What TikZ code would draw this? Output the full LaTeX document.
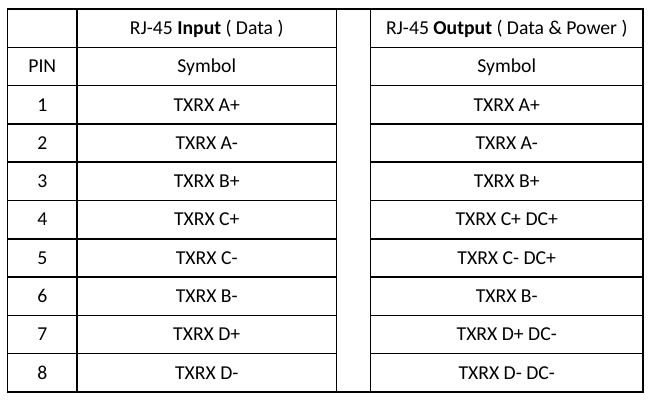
\documentclass[tikz,border=0pt]{standalone}
\usepackage{fontspec}
\setmainfont{Carlito}
\usetikzlibrary{positioning}

\begin{document}
\begin{tikzpicture}[x=0.025cm, y=-0.025cm, line width=1.1pt,
    cell/.style={inner sep=0pt, anchor=base, font=\fontsize{14}{17}\selectfont}]
    \useasboundingbox (0, 0) rectangle (648, 401);

    \draw (7.5, 9) rectangle (643, 392);
    \foreach \i in {1, ..., 9} {
        \draw (7.5, 9+38.3*\i) -- (336.5, 9+38.3*\i);
        \draw (370.5, 9+38.3*\i) -- (643, 9+38.3*\i);
    }
    \foreach \x in {77, 336.5, 370.5} {
        \draw (\x, 9) -- (\x, 392);
    }

    \node [cell] (inhead) at (206.75, 34.45) {RJ-45 \textbf{Input} ( Data )};
    \node [cell] (outhead) at (506.75, 34.45) {RJ-45 \textbf{Output} ( Data \& Power )};
    \node [cell] (pinhead) at (42.25, 72.75) {PIN};
    \node [cell] (insym) at (206.75, 72.75) {Symbol};
    \node [cell] (outsym) at (506.75, 72.75) {Symbol};

    \foreach \p/\a/\b in {
        1/TXRX A+/TXRX A+, 2/TXRX A-/TXRX A-, 3/TXRX B+/TXRX B+,
        4/TXRX C+/TXRX C+ DC+, 5/TXRX C-/TXRX C- DC+, 6/TXRX B-/TXRX B-,
        7/TXRX D+/TXRX D+ DC-, 8/TXRX D-/TXRX D- DC-} {
        \node [cell] (pin\p) at (42.25, 72.75+38.3*\p) {\p};
        \node [cell] (in\p) at (206.75, 72.75+38.3*\p) {\a};
        \node [cell] (out\p) at (506.75, 72.75+38.3*\p) {\b};
    }
\end{tikzpicture}
\end{document}
